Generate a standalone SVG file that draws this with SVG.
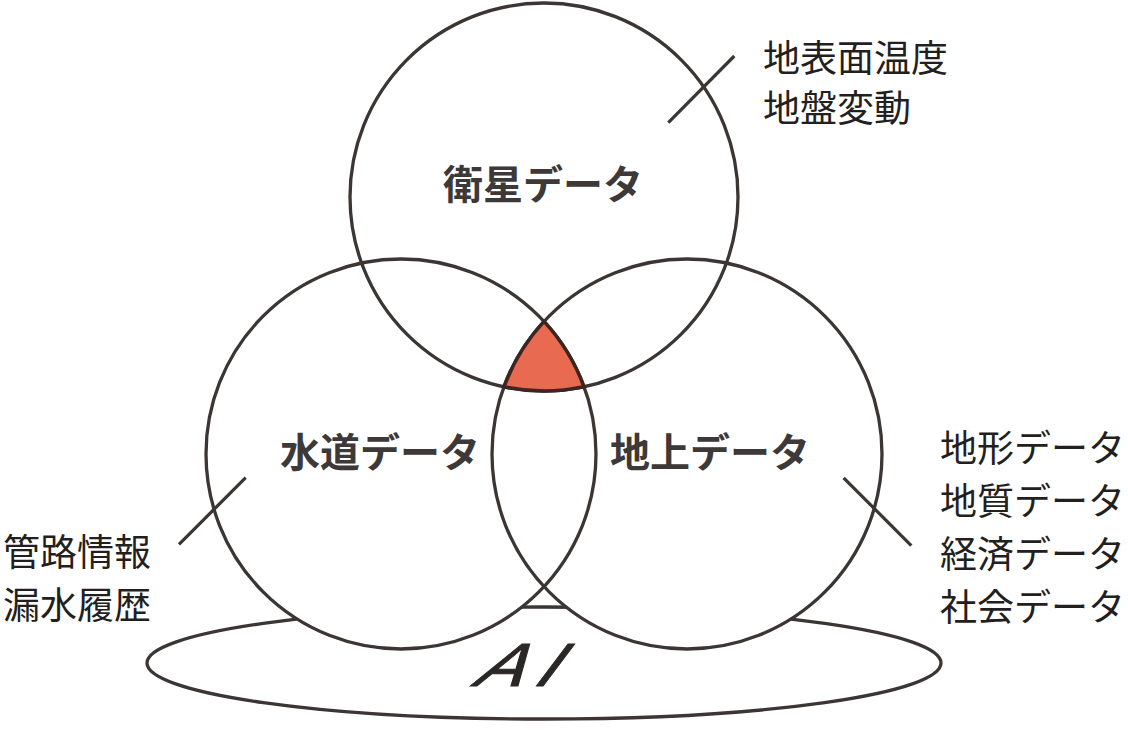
<svg xmlns="http://www.w3.org/2000/svg" width="1128" height="730" viewBox="0 0 1128 730">
  <style>
    .ring { fill: none; stroke: #3b3533; stroke-width: 3.3; }
    .mask { fill: #ffffff; stroke: none; }
    .tick { stroke: #3b3533; stroke-width: 3.2; fill: none; }
    .title { font-family: "Noto Sans CJK JP", "Noto Sans", sans-serif; font-weight: 700; font-size: 40px; fill: #3d3939; text-anchor: middle; dominant-baseline: central; }
    .note { font-family: "Noto Sans CJK JP", "Noto Sans", sans-serif; font-weight: 400; font-size: 37px; fill: #231f20; dominant-baseline: central; }
    .ai { font-family: "Liberation Sans", Arial, sans-serif; font-size: 61px; fill: #2b2726; stroke: #2b2726; stroke-width: 1; }
  </style>
  <rect width="1128" height="730" fill="#ffffff"/>

  <g id="node-ai">
    <ellipse cx="544" cy="663" rx="397" ry="56" fill="#ffffff" stroke="#3b3533" stroke-width="3.3"/>
  </g>

  <g id="circle-fills">
    <circle class="mask" cx="544" cy="197" r="194"/>
    <circle class="mask" cx="401" cy="454" r="195"/>
    <circle class="mask" cx="687" cy="454" r="195"/>
  </g>

  <g id="node-satellite">
    <circle class="ring" cx="544" cy="197" r="194"/>
  </g>
  <g id="node-water">
    <circle class="ring" cx="401" cy="454" r="195"/>
  </g>
  <g id="node-ground">
    <circle class="ring" cx="687" cy="454" r="195"/>
  </g>

  <g id="node-intersection">
    <path d="M 544 321.4 A 195 195 0 0 1 584 386.8 A 194 194 0 0 1 504 386.8 A 195 195 0 0 1 544 321.4 Z" fill="#e86a50" stroke="#3a2622" stroke-width="3.6" stroke-linejoin="round"/>
  </g>

  <g id="connectors">
    <line class="tick" x1="668.3" y1="122.7" x2="734.3" y2="56"/>
    <line class="tick" x1="179" y1="544.3" x2="245.7" y2="477.7"/>
    <line class="tick" x1="843.6" y1="477.8" x2="911.3" y2="545.6"/>
  </g>

  <g id="labels">
    <text class="title" x="543" y="182">衛星データ</text>
    <text class="title" x="380" y="450">水道データ</text>
    <text class="title" x="710" y="450">地上データ</text>

    <text class="note" x="763" y="56">地表面温度</text>
    <text class="note" x="763" y="106">地盤変動</text>

    <text class="note" x="3" y="550">管路情報</text>
    <text class="note" x="3" y="603">漏水履歴</text>

    <text class="note" x="940" y="446">地形データ</text>
    <text class="note" x="940" y="499">地質データ</text>
    <text class="note" x="940" y="552">経済データ</text>
    <text class="note" x="940" y="605">社会データ</text>

    <g transform="translate(470,686) skewX(-37) scale(1.18,1)">
      <text class="ai" x="0" y="0" letter-spacing="10">AI</text>
    </g>
  </g>
</svg>
